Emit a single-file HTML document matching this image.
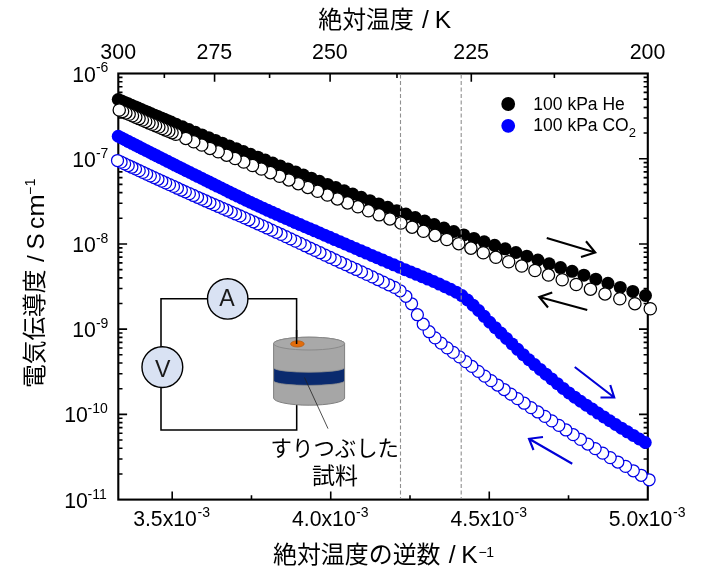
<!DOCTYPE html><html lang="ja"><head><meta charset="utf-8"><title>chart</title><style>html,body{margin:0;padding:0;background:#fff}svg{display:block;will-change:transform}</style></head><body><svg width="707" height="576" viewBox="0 0 707 576" role="img" aria-labelledby="ct cd">
<title id="ct">電気伝導度 / S cm⁻¹ vs 絶対温度の逆数 / K⁻¹ (絶対温度 / K)</title>
<desc id="cd">Arrhenius plot of electrical conductivity under 100 kPa He and 100 kPa CO2, with inset circuit (A, V) and ground sample: すりつぶした試料</desc>
<rect width="707" height="576" fill="#fff"/>
<path d="M118.30 133.07L122.50 133.07 M647.80 133.07L643.60 133.07 M118.30 118.06L122.50 118.06 M647.80 118.06L643.60 118.06 M118.30 107.41L122.50 107.41 M647.80 107.41L643.60 107.41 M118.30 99.15L122.50 99.15 M647.80 99.15L643.60 99.15 M118.30 92.41L122.50 92.41 M647.80 92.41L643.60 92.41 M118.30 86.70L122.50 86.70 M647.80 86.70L643.60 86.70 M118.30 81.76L122.50 81.76 M647.80 81.76L643.60 81.76 M118.30 77.40L122.50 77.40 M647.80 77.40L643.60 77.40 M118.30 158.72L127.10 158.72 M647.80 158.72L639.00 158.72 M118.30 218.29L122.50 218.29 M647.80 218.29L643.60 218.29 M118.30 203.28L122.50 203.28 M647.80 203.28L643.60 203.28 M118.30 192.63L122.50 192.63 M647.80 192.63L643.60 192.63 M118.30 184.37L122.50 184.37 M647.80 184.37L643.60 184.37 M118.30 177.63L122.50 177.63 M647.80 177.63L643.60 177.63 M118.30 171.92L122.50 171.92 M647.80 171.92L643.60 171.92 M118.30 166.98L122.50 166.98 M647.80 166.98L643.60 166.98 M118.30 162.62L122.50 162.62 M647.80 162.62L643.60 162.62 M118.30 243.94L127.10 243.94 M647.80 243.94L639.00 243.94 M118.30 303.51L122.50 303.51 M647.80 303.51L643.60 303.51 M118.30 288.50L122.50 288.50 M647.80 288.50L643.60 288.50 M118.30 277.85L122.50 277.85 M647.80 277.85L643.60 277.85 M118.30 269.59L122.50 269.59 M647.80 269.59L643.60 269.59 M118.30 262.85L122.50 262.85 M647.80 262.85L643.60 262.85 M118.30 257.14L122.50 257.14 M647.80 257.14L643.60 257.14 M118.30 252.20L122.50 252.20 M647.80 252.20L643.60 252.20 M118.30 247.84L122.50 247.84 M647.80 247.84L643.60 247.84 M118.30 329.16L127.10 329.16 M647.80 329.16L639.00 329.16 M118.30 388.73L122.50 388.73 M647.80 388.73L643.60 388.73 M118.30 373.72L122.50 373.72 M647.80 373.72L643.60 373.72 M118.30 363.07L122.50 363.07 M647.80 363.07L643.60 363.07 M118.30 354.81L122.50 354.81 M647.80 354.81L643.60 354.81 M118.30 348.07L122.50 348.07 M647.80 348.07L643.60 348.07 M118.30 342.36L122.50 342.36 M647.80 342.36L643.60 342.36 M118.30 337.42L122.50 337.42 M647.80 337.42L643.60 337.42 M118.30 333.06L122.50 333.06 M647.80 333.06L643.60 333.06 M118.30 414.38L127.10 414.38 M647.80 414.38L639.00 414.38 M118.30 473.95L122.50 473.95 M647.80 473.95L643.60 473.95 M118.30 458.94L122.50 458.94 M647.80 458.94L643.60 458.94 M118.30 448.29L122.50 448.29 M647.80 448.29L643.60 448.29 M118.30 440.03L122.50 440.03 M647.80 440.03L643.60 440.03 M118.30 433.29L122.50 433.29 M647.80 433.29L643.60 433.29 M118.30 427.58L122.50 427.58 M647.80 427.58L643.60 427.58 M118.30 422.64L122.50 422.64 M647.80 422.64L643.60 422.64 M118.30 418.28L122.50 418.28 M647.80 418.28L643.60 418.28 M172.20 499.60L172.20 491.40 M330.73 499.60L330.73 491.40 M489.27 499.60L489.27 491.40 M251.47 499.60L251.47 495.20 M410.00 499.60L410.00 495.20 M568.53 499.60L568.53 495.20 M214.57 73.50L214.57 81.70 M330.10 73.50L330.10 81.70 M471.30 73.50L471.30 81.70 M164.34 73.50L164.34 77.90 M269.59 73.50L269.59 77.90 M396.98 73.50L396.98 77.90 M554.36 73.50L554.36 77.90" stroke="#000" stroke-width="1.6" fill="none"/>
<rect x="118.3" y="73.5" width="529.50" height="426.10" fill="none" stroke="#000" stroke-width="2.1"/>
<g fill="#000"><circle cx="118.25" cy="99.50" r="6.5"/><circle cx="121.55" cy="100.94" r="6.5"/><circle cx="124.85" cy="102.38" r="6.5"/><circle cx="128.15" cy="103.81" r="6.5"/><circle cx="131.45" cy="105.24" r="6.5"/><circle cx="134.75" cy="106.66" r="6.5"/><circle cx="138.05" cy="108.09" r="6.5"/><circle cx="141.35" cy="109.51" r="6.5"/><circle cx="144.65" cy="110.92" r="6.5"/><circle cx="147.95" cy="112.34" r="6.5"/><circle cx="151.25" cy="113.74" r="6.5"/><circle cx="154.55" cy="115.15" r="6.5"/><circle cx="157.85" cy="116.55" r="6.5"/><circle cx="161.15" cy="117.95" r="6.5"/><circle cx="164.45" cy="119.34" r="6.5"/><circle cx="167.75" cy="120.73" r="6.5"/><circle cx="171.05" cy="122.12" r="6.5"/><circle cx="176.00" cy="124.19" r="6.5"/><circle cx="182.39" cy="126.86" r="6.5"/><circle cx="188.86" cy="129.54" r="6.5"/><circle cx="195.40" cy="132.23" r="6.5"/><circle cx="202.01" cy="134.94" r="6.5"/><circle cx="208.71" cy="137.66" r="6.5"/><circle cx="215.48" cy="140.40" r="6.5"/><circle cx="222.33" cy="143.15" r="6.5"/><circle cx="229.27" cy="145.91" r="6.5"/><circle cx="236.29" cy="148.70" r="6.5"/><circle cx="243.39" cy="151.50" r="6.5"/><circle cx="250.58" cy="154.33" r="6.5"/><circle cx="257.86" cy="157.19" r="6.5"/><circle cx="265.23" cy="160.07" r="6.5"/><circle cx="272.68" cy="162.99" r="6.5"/><circle cx="280.23" cy="165.94" r="6.5"/><circle cx="287.88" cy="168.94" r="6.5"/><circle cx="295.62" cy="171.96" r="6.5"/><circle cx="303.46" cy="175.03" r="6.5"/><circle cx="311.40" cy="178.13" r="6.5"/><circle cx="319.44" cy="181.26" r="6.5"/><circle cx="327.59" cy="184.43" r="6.5"/><circle cx="335.84" cy="187.62" r="6.5"/><circle cx="344.20" cy="190.85" r="6.5"/><circle cx="352.67" cy="194.09" r="6.5"/><circle cx="361.26" cy="197.36" r="6.5"/><circle cx="369.96" cy="200.65" r="6.5"/><circle cx="378.77" cy="203.97" r="6.5"/><circle cx="387.71" cy="207.32" r="6.5"/><circle cx="396.76" cy="210.70" r="6.5"/><circle cx="405.94" cy="214.12" r="6.5"/><circle cx="415.25" cy="217.56" r="6.5"/><circle cx="424.69" cy="221.02" r="6.5"/><circle cx="434.26" cy="224.50" r="6.5"/><circle cx="443.96" cy="227.99" r="6.5"/><circle cx="453.81" cy="231.48" r="6.5"/><circle cx="463.79" cy="234.96" r="6.5"/><circle cx="473.92" cy="238.38" r="6.5"/><circle cx="484.19" cy="241.81" r="6.5"/><circle cx="494.62" cy="245.31" r="6.5"/><circle cx="505.20" cy="248.86" r="6.5"/><circle cx="515.93" cy="252.48" r="6.5"/><circle cx="526.83" cy="256.20" r="6.5"/><circle cx="537.89" cy="259.99" r="6.5"/><circle cx="549.12" cy="263.79" r="6.5"/><circle cx="560.52" cy="267.54" r="6.5"/><circle cx="572.10" cy="271.30" r="6.5"/><circle cx="583.86" cy="275.15" r="6.5"/><circle cx="595.80" cy="279.17" r="6.5"/><circle cx="607.93" cy="283.30" r="6.5"/><circle cx="620.25" cy="287.42" r="6.5"/><circle cx="632.78" cy="291.47" r="6.5"/><circle cx="645.50" cy="295.50" r="6.5"/></g>
<g fill="#fff" stroke="#000" stroke-width="1.25"><circle cx="650.25" cy="308.75" r="6.15"/><circle cx="634.88" cy="303.70" r="6.15"/><circle cx="619.80" cy="298.77" r="6.15"/><circle cx="605.00" cy="293.94" r="6.15"/><circle cx="590.47" cy="289.20" r="6.15"/><circle cx="576.21" cy="284.49" r="6.15"/><circle cx="562.21" cy="279.75" r="6.15"/><circle cx="548.46" cy="275.06" r="6.15"/><circle cx="534.96" cy="270.48" r="6.15"/><circle cx="521.69" cy="266.08" r="6.15"/><circle cx="508.66" cy="261.74" r="6.15"/><circle cx="495.85" cy="257.32" r="6.15"/><circle cx="483.27" cy="252.73" r="6.15"/><circle cx="470.90" cy="248.12" r="6.15"/><circle cx="458.74" cy="243.69" r="6.15"/><circle cx="446.78" cy="239.47" r="6.15"/><circle cx="435.02" cy="235.36" r="6.15"/><circle cx="423.46" cy="231.30" r="6.15"/><circle cx="412.08" cy="227.21" r="6.15"/><circle cx="400.89" cy="223.08" r="6.15"/><circle cx="389.88" cy="218.94" r="6.15"/><circle cx="379.05" cy="214.84" r="6.15"/><circle cx="368.39" cy="210.79" r="6.15"/><circle cx="357.90" cy="206.80" r="6.15"/><circle cx="347.56" cy="202.86" r="6.15"/><circle cx="337.39" cy="198.95" r="6.15"/><circle cx="327.38" cy="195.07" r="6.15"/><circle cx="317.52" cy="191.23" r="6.15"/><circle cx="307.81" cy="187.42" r="6.15"/><circle cx="298.24" cy="183.66" r="6.15"/><circle cx="288.82" cy="179.93" r="6.15"/><circle cx="279.54" cy="176.25" r="6.15"/><circle cx="270.39" cy="172.63" r="6.15"/><circle cx="261.37" cy="169.06" r="6.15"/><circle cx="252.49" cy="165.53" r="6.15"/><circle cx="243.73" cy="162.04" r="6.15"/><circle cx="235.10" cy="158.58" r="6.15"/><circle cx="226.60" cy="155.16" r="6.15"/><circle cx="218.21" cy="151.77" r="6.15"/><circle cx="209.94" cy="148.40" r="6.15"/><circle cx="201.78" cy="145.06" r="6.15"/><circle cx="193.73" cy="141.73" r="6.15"/><circle cx="185.80" cy="138.43" r="6.15"/><circle cx="175.80" cy="134.25" r="6.15"/><circle cx="172.05" cy="132.67" r="6.15"/><circle cx="168.75" cy="131.28" r="6.15"/><circle cx="165.45" cy="129.88" r="6.15"/><circle cx="162.15" cy="128.48" r="6.15"/><circle cx="158.85" cy="127.08" r="6.15"/><circle cx="155.55" cy="125.67" r="6.15"/><circle cx="152.25" cy="124.26" r="6.15"/><circle cx="148.95" cy="122.85" r="6.15"/><circle cx="145.65" cy="121.43" r="6.15"/><circle cx="142.35" cy="120.02" r="6.15"/><circle cx="139.05" cy="118.59" r="6.15"/><circle cx="135.75" cy="117.17" r="6.15"/><circle cx="132.45" cy="115.74" r="6.15"/><circle cx="129.15" cy="114.31" r="6.15"/><circle cx="125.85" cy="112.88" r="6.15"/><circle cx="122.55" cy="111.44" r="6.15"/><circle cx="119.25" cy="110.00" r="6.15"/></g>
<g fill="#0000ff"><circle cx="118.25" cy="136.25" r="6.5"/><circle cx="121.67" cy="138.01" r="6.5"/><circle cx="125.10" cy="139.77" r="6.5"/><circle cx="128.55" cy="141.53" r="6.5"/><circle cx="132.01" cy="143.30" r="6.5"/><circle cx="135.49" cy="145.08" r="6.5"/><circle cx="138.99" cy="146.86" r="6.5"/><circle cx="142.50" cy="148.65" r="6.5"/><circle cx="146.03" cy="150.44" r="6.5"/><circle cx="149.58" cy="152.24" r="6.5"/><circle cx="153.15" cy="154.04" r="6.5"/><circle cx="156.73" cy="155.86" r="6.5"/><circle cx="160.34" cy="157.67" r="6.5"/><circle cx="163.97" cy="159.50" r="6.5"/><circle cx="167.61" cy="161.34" r="6.5"/><circle cx="171.28" cy="163.18" r="6.5"/><circle cx="174.97" cy="165.03" r="6.5"/><circle cx="178.69" cy="166.88" r="6.5"/><circle cx="182.42" cy="168.75" r="6.5"/><circle cx="186.18" cy="170.63" r="6.5"/><circle cx="189.97" cy="172.51" r="6.5"/><circle cx="193.77" cy="174.40" r="6.5"/><circle cx="197.61" cy="176.30" r="6.5"/><circle cx="201.47" cy="178.22" r="6.5"/><circle cx="205.35" cy="180.15" r="6.5"/><circle cx="209.26" cy="182.10" r="6.5"/><circle cx="213.21" cy="184.06" r="6.5"/><circle cx="217.18" cy="186.04" r="6.5"/><circle cx="221.19" cy="188.02" r="6.5"/><circle cx="225.23" cy="190.02" r="6.5"/><circle cx="229.30" cy="192.03" r="6.5"/><circle cx="233.41" cy="194.05" r="6.5"/><circle cx="237.56" cy="196.08" r="6.5"/><circle cx="241.75" cy="198.11" r="6.5"/><circle cx="245.98" cy="200.14" r="6.5"/><circle cx="250.24" cy="202.18" r="6.5"/><circle cx="254.55" cy="204.21" r="6.5"/><circle cx="258.91" cy="206.24" r="6.5"/><circle cx="263.31" cy="208.27" r="6.5"/><circle cx="267.75" cy="210.30" r="6.5"/><circle cx="272.24" cy="212.33" r="6.5"/><circle cx="276.77" cy="214.36" r="6.5"/><circle cx="281.35" cy="216.39" r="6.5"/><circle cx="285.98" cy="218.43" r="6.5"/><circle cx="290.65" cy="220.47" r="6.5"/><circle cx="295.38" cy="222.53" r="6.5"/><circle cx="300.15" cy="224.59" r="6.5"/><circle cx="304.96" cy="226.67" r="6.5"/><circle cx="309.83" cy="228.76" r="6.5"/><circle cx="314.74" cy="230.87" r="6.5"/><circle cx="319.70" cy="233.00" r="6.5"/><circle cx="324.70" cy="235.15" r="6.5"/><circle cx="329.75" cy="237.33" r="6.5"/><circle cx="334.84" cy="239.53" r="6.5"/><circle cx="339.98" cy="241.76" r="6.5"/><circle cx="345.15" cy="243.99" r="6.5"/><circle cx="350.37" cy="246.25" r="6.5"/><circle cx="355.63" cy="248.51" r="6.5"/><circle cx="360.94" cy="250.80" r="6.5"/><circle cx="366.30" cy="253.10" r="6.5"/><circle cx="371.71" cy="255.42" r="6.5"/><circle cx="377.17" cy="257.76" r="6.5"/><circle cx="382.67" cy="260.11" r="6.5"/><circle cx="388.22" cy="262.48" r="6.5"/><circle cx="393.81" cy="264.86" r="6.5"/><circle cx="399.44" cy="267.26" r="6.5"/><circle cx="405.10" cy="269.64" r="6.5"/><circle cx="410.78" cy="271.98" r="6.5"/><circle cx="416.48" cy="274.31" r="6.5"/><circle cx="422.19" cy="276.66" r="6.5"/><circle cx="427.89" cy="279.05" r="6.5"/><circle cx="433.59" cy="281.51" r="6.5"/><circle cx="439.28" cy="284.07" r="6.5"/><circle cx="444.96" cy="286.66" r="6.5"/><circle cx="450.61" cy="289.28" r="6.5"/><circle cx="456.25" cy="292.17" r="6.5"/><circle cx="461.87" cy="295.58" r="6.5"/><circle cx="467.48" cy="299.98" r="6.5"/><circle cx="473.06" cy="305.13" r="6.5"/><circle cx="478.64" cy="310.51" r="6.5"/><circle cx="484.20" cy="316.36" r="6.5"/><circle cx="489.76" cy="322.26" r="6.5"/><circle cx="495.32" cy="327.72" r="6.5"/><circle cx="500.89" cy="333.04" r="6.5"/><circle cx="506.46" cy="338.46" r="6.5"/><circle cx="512.04" cy="343.88" r="6.5"/><circle cx="517.65" cy="349.33" r="6.5"/><circle cx="523.27" cy="354.66" r="6.5"/><circle cx="528.90" cy="359.73" r="6.5"/><circle cx="534.56" cy="364.62" r="6.5"/><circle cx="540.25" cy="369.41" r="6.5"/><circle cx="545.95" cy="374.14" r="6.5"/><circle cx="551.67" cy="378.89" r="6.5"/><circle cx="557.42" cy="383.69" r="6.5"/><circle cx="563.18" cy="388.42" r="6.5"/><circle cx="568.95" cy="392.96" r="6.5"/><circle cx="574.74" cy="397.21" r="6.5"/><circle cx="580.54" cy="401.26" r="6.5"/><circle cx="586.35" cy="405.20" r="6.5"/><circle cx="592.18" cy="409.12" r="6.5"/><circle cx="598.01" cy="413.05" r="6.5"/><circle cx="603.87" cy="416.93" r="6.5"/><circle cx="609.73" cy="420.76" r="6.5"/><circle cx="615.61" cy="424.52" r="6.5"/><circle cx="621.50" cy="428.20" r="6.5"/><circle cx="627.41" cy="431.84" r="6.5"/><circle cx="633.34" cy="435.43" r="6.5"/><circle cx="639.28" cy="438.98" r="6.5"/><circle cx="645.25" cy="442.50" r="6.5"/></g>
<g fill="#fff" stroke="#0000e8" stroke-width="1.25"><circle cx="649.10" cy="479.75" r="6.0"/><circle cx="641.17" cy="475.25" r="6.0"/><circle cx="633.31" cy="470.80" r="6.0"/><circle cx="625.53" cy="466.42" r="6.0"/><circle cx="617.83" cy="462.05" r="6.0"/><circle cx="610.20" cy="457.62" r="6.0"/><circle cx="602.65" cy="453.14" r="6.0"/><circle cx="595.17" cy="448.62" r="6.0"/><circle cx="587.76" cy="444.06" r="6.0"/><circle cx="580.42" cy="439.43" r="6.0"/><circle cx="573.16" cy="434.69" r="6.0"/><circle cx="565.96" cy="429.97" r="6.0"/><circle cx="558.83" cy="425.37" r="6.0"/><circle cx="551.76" cy="420.84" r="6.0"/><circle cx="544.77" cy="416.35" r="6.0"/><circle cx="537.83" cy="411.95" r="6.0"/><circle cx="530.97" cy="407.60" r="6.0"/><circle cx="524.16" cy="403.20" r="6.0"/><circle cx="517.42" cy="398.67" r="6.0"/><circle cx="510.74" cy="394.08" r="6.0"/><circle cx="504.12" cy="389.55" r="6.0"/><circle cx="497.56" cy="385.04" r="6.0"/><circle cx="491.06" cy="380.64" r="6.0"/><circle cx="484.61" cy="376.15" r="6.0"/><circle cx="478.23" cy="371.33" r="6.0"/><circle cx="471.90" cy="366.44" r="6.0"/><circle cx="465.63" cy="361.58" r="6.0"/><circle cx="459.41" cy="356.87" r="6.0"/><circle cx="453.25" cy="352.41" r="6.0"/><circle cx="447.14" cy="347.85" r="6.0"/><circle cx="441.08" cy="343.09" r="6.0"/><circle cx="435.08" cy="337.88" r="6.0"/><circle cx="429.13" cy="331.72" r="6.0"/><circle cx="423.23" cy="324.18" r="6.0"/><circle cx="417.38" cy="314.70" r="6.0"/><circle cx="411.58" cy="303.77" r="6.0"/><circle cx="405.83" cy="296.27" r="6.0"/><circle cx="400.12" cy="290.77" r="6.0"/><circle cx="394.47" cy="287.40" r="6.0"/><circle cx="388.86" cy="284.79" r="6.0"/><circle cx="383.30" cy="282.17" r="6.0"/><circle cx="377.79" cy="279.52" r="6.0"/><circle cx="372.32" cy="276.93" r="6.0"/><circle cx="366.89" cy="274.40" r="6.0"/><circle cx="361.51" cy="271.92" r="6.0"/><circle cx="356.18" cy="269.48" r="6.0"/><circle cx="350.89" cy="267.06" r="6.0"/><circle cx="345.64" cy="264.66" r="6.0"/><circle cx="340.43" cy="262.26" r="6.0"/><circle cx="335.26" cy="259.87" r="6.0"/><circle cx="330.14" cy="257.48" r="6.0"/><circle cx="325.06" cy="255.10" r="6.0"/><circle cx="320.01" cy="252.73" r="6.0"/><circle cx="315.01" cy="250.38" r="6.0"/><circle cx="310.05" cy="248.04" r="6.0"/><circle cx="305.12" cy="245.71" r="6.0"/><circle cx="300.24" cy="243.41" r="6.0"/><circle cx="295.39" cy="241.13" r="6.0"/><circle cx="290.58" cy="238.87" r="6.0"/><circle cx="285.81" cy="236.64" r="6.0"/><circle cx="281.07" cy="234.43" r="6.0"/><circle cx="276.37" cy="232.25" r="6.0"/><circle cx="271.70" cy="230.09" r="6.0"/><circle cx="267.08" cy="227.97" r="6.0"/><circle cx="262.48" cy="225.87" r="6.0"/><circle cx="257.92" cy="223.81" r="6.0"/><circle cx="253.40" cy="221.79" r="6.0"/><circle cx="248.91" cy="219.79" r="6.0"/><circle cx="244.45" cy="217.83" r="6.0"/><circle cx="240.02" cy="215.89" r="6.0"/><circle cx="235.63" cy="213.98" r="6.0"/><circle cx="231.27" cy="212.09" r="6.0"/><circle cx="226.95" cy="210.21" r="6.0"/><circle cx="222.65" cy="208.34" r="6.0"/><circle cx="218.39" cy="206.49" r="6.0"/><circle cx="214.15" cy="204.64" r="6.0"/><circle cx="209.95" cy="202.80" r="6.0"/><circle cx="205.78" cy="200.96" r="6.0"/><circle cx="201.64" cy="199.13" r="6.0"/><circle cx="197.53" cy="197.29" r="6.0"/><circle cx="193.44" cy="195.45" r="6.0"/><circle cx="189.39" cy="193.63" r="6.0"/><circle cx="185.36" cy="191.81" r="6.0"/><circle cx="181.37" cy="190.00" r="6.0"/><circle cx="177.40" cy="188.20" r="6.0"/><circle cx="173.46" cy="186.41" r="6.0"/><circle cx="169.54" cy="184.62" r="6.0"/><circle cx="165.66" cy="182.85" r="6.0"/><circle cx="161.80" cy="181.08" r="6.0"/><circle cx="157.97" cy="179.32" r="6.0"/><circle cx="154.16" cy="177.57" r="6.0"/><circle cx="150.38" cy="175.83" r="6.0"/><circle cx="146.63" cy="174.10" r="6.0"/><circle cx="142.90" cy="172.37" r="6.0"/><circle cx="139.20" cy="170.65" r="6.0"/><circle cx="135.52" cy="168.94" r="6.0"/><circle cx="131.87" cy="167.24" r="6.0"/><circle cx="128.24" cy="165.54" r="6.0"/><circle cx="124.64" cy="163.85" r="6.0"/><circle cx="121.06" cy="162.17" r="6.0"/><circle cx="117.50" cy="160.50" r="6.0"/></g>
<line x1="400.5" y1="74.5" x2="400.5" y2="498.6" stroke="#909090" stroke-width="1.1" stroke-dasharray="4 2.5"/>
<line x1="461.2" y1="74.5" x2="461.2" y2="498.6" stroke="#909090" stroke-width="1.1" stroke-dasharray="4 2.5"/>
<path d="M546.75 238L595.25 252.5M586 241.25L595.25 252.5L581 257" fill="none" stroke="#000" stroke-width="2.1" stroke-linejoin="miter"/>
<path d="M587.25 310L539.25 297M552.25 292.5L539.25 297L548 307.5" fill="none" stroke="#000" stroke-width="2.1" stroke-linejoin="miter"/>
<path d="M574.75 367L614.25 397.5M610.25 385L614.25 397.5L600.5 397.5" fill="none" stroke="#0000d8" stroke-width="2.1" stroke-linejoin="miter"/>
<path d="M572.25 463.75L529 438.75M543 437L529 438.75L533.5 450" fill="none" stroke="#0000d8" stroke-width="2.1" stroke-linejoin="miter"/>
<circle cx="508.2" cy="104" r="6.9" fill="#000"/><circle cx="508.2" cy="125.85" r="6.9" fill="#0000ff"/>
<text x="533.37" y="109.90" font-family="Liberation Sans, sans-serif" font-size="17.5" fill="#000">100 kPa He</text>
<text x="533.37" y="131.40" font-family="Liberation Sans, sans-serif" font-size="17.5" fill="#000">100 kPa CO</text>
<text x="628.75" y="136.80" font-family="Liberation Sans, sans-serif" font-size="13" fill="#000">2</text>
<text x="100.36" y="59.10" font-family="Liberation Sans, sans-serif" font-size="21.4" fill="#000">300</text>
<text x="196.53" y="59.10" font-family="Liberation Sans, sans-serif" font-size="21.4" fill="#000">275</text>
<text x="312.03" y="59.10" font-family="Liberation Sans, sans-serif" font-size="21.4" fill="#000">250</text>
<text x="453.26" y="59.10" font-family="Liberation Sans, sans-serif" font-size="21.4" fill="#000">225</text>
<text x="629.73" y="59.10" font-family="Liberation Sans, sans-serif" font-size="21.4" fill="#000">200</text>
<text x="133.19" y="526.30" font-family="Liberation Sans, sans-serif" font-size="21.2" fill="#000">3.5x10</text>
<text x="197.48" y="517.10" font-family="Liberation Sans, sans-serif" font-size="14" fill="#000">-3</text>
<text x="292.05" y="526.30" font-family="Liberation Sans, sans-serif" font-size="21.2" fill="#000">4.0x10</text>
<text x="356.01" y="517.10" font-family="Liberation Sans, sans-serif" font-size="14" fill="#000">-3</text>
<text x="450.58" y="526.30" font-family="Liberation Sans, sans-serif" font-size="21.2" fill="#000">4.5x10</text>
<text x="514.54" y="517.10" font-family="Liberation Sans, sans-serif" font-size="14" fill="#000">-3</text>
<text x="608.75" y="526.30" font-family="Liberation Sans, sans-serif" font-size="21.2" fill="#000">5.0x10</text>
<text x="673.08" y="517.10" font-family="Liberation Sans, sans-serif" font-size="14" fill="#000">-3</text>
<text x="72.28" y="81.60" font-family="Liberation Sans, sans-serif" font-size="21.3" fill="#000">10</text>
<text x="95.88" y="72.40" font-family="Liberation Sans, sans-serif" font-size="14" fill="#000">-6</text>
<text x="72.28" y="166.82" font-family="Liberation Sans, sans-serif" font-size="21.3" fill="#000">10</text>
<text x="95.88" y="157.62" font-family="Liberation Sans, sans-serif" font-size="14" fill="#000">-7</text>
<text x="72.28" y="252.04" font-family="Liberation Sans, sans-serif" font-size="21.3" fill="#000">10</text>
<text x="95.88" y="242.84" font-family="Liberation Sans, sans-serif" font-size="14" fill="#000">-8</text>
<text x="72.28" y="337.26" font-family="Liberation Sans, sans-serif" font-size="21.3" fill="#000">10</text>
<text x="95.88" y="328.06" font-family="Liberation Sans, sans-serif" font-size="14" fill="#000">-9</text>
<text x="64.28" y="422.48" font-family="Liberation Sans, sans-serif" font-size="21.3" fill="#000">10</text>
<text x="87.58" y="413.28" font-family="Liberation Sans, sans-serif" font-size="14" fill="#000">-10</text>
<text x="64.28" y="507.70" font-family="Liberation Sans, sans-serif" font-size="21.3" fill="#000">10</text>
<text x="87.58" y="498.50" font-family="Liberation Sans, sans-serif" font-size="14" fill="#000">-11</text>
<text x="318.3" y="27.8" font-family="Liberation Sans, Noto Sans CJK JP, sans-serif" font-size="24" fill="#000" textLength="95.5" lengthAdjust="spacingAndGlyphs">絶対温度</text>
<text x="422.00" y="27.70" font-family="Liberation Sans, sans-serif" font-size="24.6" fill="#000">/</text>
<text x="434.68" y="27.70" font-family="Liberation Sans, sans-serif" font-size="24.6" fill="#000">K</text>
<text x="273.0" y="563.3" font-family="Liberation Sans, Noto Sans CJK JP, sans-serif" font-size="24" fill="#000" textLength="167.5" lengthAdjust="spacingAndGlyphs">絶対温度の逆数</text>
<text x="448.80" y="563.30" font-family="Liberation Sans, sans-serif" font-size="24.6" fill="#000">/</text>
<text x="461.18" y="563.30" font-family="Liberation Sans, sans-serif" font-size="24.6" fill="#000">K</text>
<text x="478.61" y="557.40" font-family="Liberation Sans, sans-serif" font-size="14" fill="#000">−</text>
<text x="486.33" y="557.40" font-family="Liberation Sans, sans-serif" font-size="14" fill="#000">1</text>
<g transform="translate(43.9 388.0) rotate(-90)"><text x="0" y="-0.5" font-family="Liberation Sans, Noto Sans CJK JP, sans-serif" font-size="24" fill="#000" textLength="118.5" lengthAdjust="spacingAndGlyphs">電気伝導度</text><text x="126.00" y="0.00" font-family="Liberation Sans, sans-serif" font-size="24.5" fill="#000">/</text><text x="138.50" y="0.00" font-family="Liberation Sans, sans-serif" font-size="24.3" fill="#000">S</text><text x="159.07" y="0.00" font-family="Liberation Sans, sans-serif" font-size="24.3" fill="#000">c</text><text x="171.16" y="0" font-family="Liberation Sans, sans-serif" font-size="24.3" textLength="22.67" lengthAdjust="spacingAndGlyphs">m</text><text x="193.01" y="-8.70" font-family="Liberation Sans, sans-serif" font-size="14" fill="#000">−</text><text x="201.73" y="-8.70" font-family="Liberation Sans, sans-serif" font-size="14" fill="#000">1</text></g>
<path d="M296.6 344V298.7H161V430H296.7V404" fill="none" stroke="#000" stroke-width="1.55"/>
<path d="M273.6 343.6 V398 A35.5 7.2 0 0 0 344.6 398 V343.6 A35.5 6.4 0 0 0 273.6 343.6Z" fill="#a6a6a6" stroke="#808080" stroke-width="1"/>
<ellipse cx="309.1" cy="343.6" rx="35.5" ry="6.4" fill="#a9a9a9" stroke="#8a8a8a" stroke-width="1"/>
<path d="M274.1 368.4 A35.5 4.6 0 0 0 344.1 368.4 V381.6 A35.5 4.6 0 0 1 274.1 381.6Z" fill="#0a2a6e"/>
<path d="M274.1 368.4 A35.5 4.6 0 0 0 344.1 368.4M274.1 381.6 A35.5 4.6 0 0 0 344.1 381.6" fill="none" stroke="#8f8f8f" stroke-width="0.8"/>
<ellipse cx="297.4" cy="343.9" rx="6.8" ry="3.1" fill="#e36c0a" stroke="#b85c10" stroke-width="0.8"/>
<path d="M296.6 330V344" stroke="#000" stroke-width="1.55"/>
<line x1="304.5" y1="377.5" x2="328" y2="428.6" stroke="#222" stroke-width="0.8"/>
<circle cx="227.7" cy="298.9" r="20.2" fill="#d9e2f3" stroke="#000" stroke-width="1.4"/>
<circle cx="162.35" cy="367.1" r="20.4" fill="#d9e2f3" stroke="#000" stroke-width="1.4"/>
<text x="219.16" y="306.10" font-family="Liberation Sans, sans-serif" font-size="23.2" fill="#1a1a1a">A</text>
<text x="155.06" y="377.30" font-family="Liberation Sans, sans-serif" font-size="23.2" fill="#1a1a1a">V</text>
<text x="270.5" y="456.0" font-family="Liberation Sans, Noto Sans CJK JP, sans-serif" font-size="21.5" fill="#000" textLength="128.5" lengthAdjust="spacingAndGlyphs">すりつぶした</text>
<text x="312.0" y="483.6" font-family="Liberation Sans, Noto Sans CJK JP, sans-serif" font-size="22.5" fill="#000" textLength="46" lengthAdjust="spacingAndGlyphs">試料</text>
</svg></body></html>
